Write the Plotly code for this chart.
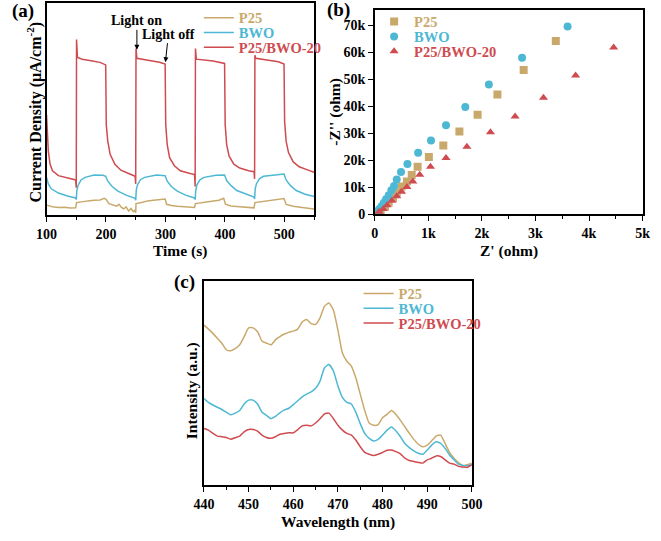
import plotly.graph_objects as go

W, H = 661, 541
FONT = "Liberation Serif"
C_P25 = "#C9A96B"
C_BWO = "#4DB8D3"
C_CMP = "#CF4B50"
NAMES = ["P25", "BWO", "P25/BWO-20"]

# ---------------- (a) transient photocurrent (arbitrary units) ----------------
t_p25 = [100, 110, 120, 130, 140, 149, 150.5, 160, 170, 180, 190, 197, 200, 205, 212, 218, 222, 226, 230, 234, 238, 242, 246, 249, 250,
         250.5, 260, 270, 280, 290, 299.5, 302, 310, 320, 335, 349, 350.5, 360, 375, 390, 398, 401, 410, 425, 440, 449,
         450.5, 465, 480, 495, 499.5, 503, 515, 530, 540, 550]
j_p25 = [4.7, 3.9, 3.6, 3.7, 3.3, 3.4, 5.9, 6.4, 6.7, 7.0, 7.1, 7.9, 7.4, 5.4, 4.7, 4.2, 5.1, 3.6, 2.9, 3.9, 1.9, 3.1, 1.6, 2.3, 1.1,
         5.4, 5.9, 6.7, 7.0, 7.3, 7.6, 5.1, 4.5, 4.2, 3.9, 3.6, 5.4, 5.9, 6.4, 7.0, 7.9, 5.1, 4.3, 3.9, 3.6, 3.4,
         5.9, 6.4, 6.8, 7.3, 7.8, 5.0, 4.2, 3.6, 3.3, 2.9]

t_bwo = [100, 103, 108, 120, 135, 149, 150, 151, 153, 158, 165, 180, 195, 199.5, 203, 210, 220, 235, 249,
         250, 251, 253, 258, 265, 285, 299.5, 303, 310, 320, 335, 349,
         350, 351, 353, 358, 365, 385, 399.5, 403, 410, 420, 435, 449,
         450, 451, 453, 458, 465, 485, 499.5, 503, 510, 520, 535, 550]
j_bwo = [17.8, 14.7, 12.4, 10.4, 9.0, 8.1, 7.3, 11.6, 14.0, 16.6, 17.8, 18.9, 18.8, 18.3, 16.0, 13.6, 11.3, 9.3, 7.9,
         7.0, 11.9, 14.3, 16.7, 17.8, 18.9, 18.6, 16.0, 13.5, 11.3, 9.3, 8.1,
         7.3, 11.6, 14.3, 16.6, 17.8, 18.8, 18.9, 16.3, 14.0, 11.6, 9.8, 8.5,
         7.6, 12.4, 14.7, 17.1, 18.3, 19.1, 19.4, 16.6, 14.0, 11.6, 9.8, 8.8]

t_cmp = [100, 103, 106, 110, 120, 135, 149, 150, 150.5, 152, 160, 175, 190, 199.5,
         200.5, 203, 207, 215, 225, 240, 249, 250, 250.5, 252, 270, 290, 299.5,
         300.5, 303, 307, 315, 325, 340, 349, 350, 350.5, 352, 360, 380, 399.5,
         400.5, 403, 407, 415, 425, 440, 449, 450, 450.5, 452, 470, 490, 499.5,
         500.5, 503, 507, 515, 525, 540, 550]
j_cmp = [47.3, 30.2, 24.0, 20.9, 18.6, 17.4, 16.6, 12.9, 82.9, 74.4, 73.6, 72.9, 72.1, 70.9,
         42.6, 34.9, 28.7, 24.0, 21.2, 19.4, 18.3, 14.7, 78.6, 74.0, 73.2, 72.1, 71.3,
         42.6, 33.3, 27.1, 23.3, 20.9, 19.7, 19.1, 13.5, 78.6, 73.6, 73.3, 72.7, 71.6,
         42.6, 33.3, 27.9, 24.0, 22.2, 20.9, 20.5, 17.1, 75.5, 74.0, 73.3, 72.4, 71.3,
         44.2, 34.9, 29.5, 25.1, 22.8, 21.2, 20.2]

# ---------------- (b) Nyquist plots ----------------
zr_p25 = [3380, 2780, 2290, 1920, 1580, 1280, 1010, 800, 690, 600, 500, 410, 340, 260, 190, 110, 60]
zi_p25 = [64200, 53400, 44300, 36800, 30600, 25400, 21200, 17500, 14500, 12100, 10200, 7900, 6000, 4300, 2700, 1500, 600]
zr_bwo = [3600, 2750, 2130, 1690, 1330, 1050, 810, 610, 490, 410, 360, 310, 260, 210, 170, 130, 90, 60, 40]
zi_bwo = [69500, 57900, 48000, 39700, 32900, 27300, 22700, 18600, 15600, 12800, 10400, 8800, 7000, 5500, 4200, 3000, 2000, 1200, 500]
zr_cmp = [4460, 3750, 3150, 2620, 2160, 1720, 1330, 1040, 840, 710, 600, 500, 410, 320, 230, 160, 80]
zi_cmp = [61700, 51400, 43100, 36200, 30300, 25000, 20800, 17500, 14600, 12100, 10000, 8300, 6600, 4900, 3300, 1900, 850]
z_ticks = [0, 1000, 2000, 3000, 4000, 5000]
z_ticklabels = ["0", "1k", "2k", "3k", "4k", "5k"]
zi_ticks = [0, 10000, 20000, 30000, 40000, 50000, 60000, 70000]
zi_ticklabels = ["0", "10k", "20k", "30k", "40k", "50k", "60k", "70k"]

# ---------------- (c) PL spectra ----------------
wl = list(range(440, 501))
pl_p25 = [78.3, 76.4, 74.3, 71.9, 69.5, 66.3, 65.8, 66.8, 68.7, 72.7, 77.0, 77.0, 75.1, 70.6, 69.5, 68.7, 71.1, 72.7, 74.0, 74.8,
          75.4, 76.4, 79.9, 81.1, 79.1, 78.7, 81.9, 87.6, 89.1, 85.6, 75.9, 64.7, 60.7, 58.3, 52.6, 44.6, 36.6, 30.5, 29.4, 29.7,
          33.1, 34.7, 36.6, 34.7, 31.8, 28.6, 25.4, 22.5, 20.1, 18.9, 19.7, 21.8, 24.1, 24.6, 20.5, 16.1, 13.3, 11.2, 9.6, 10.1, 10.9]
pl_bwo = [42.5, 40.6, 39.3, 38.2, 37.1, 35.8, 34.5, 35.3, 36.6, 39.8, 41.7, 41.7, 39.8, 35.8, 34.2, 32.6, 33.7, 35.5, 36.9, 37.7,
          39.5, 41.4, 43.3, 44.6, 45.7, 47.5, 51.0, 57.5, 59.1, 55.9, 48.6, 43.0, 40.6, 39.8, 35.8, 30.2, 25.4, 23.0, 21.7, 22.5,
          24.6, 27.0, 28.6, 26.6, 23.8, 20.5, 18.5, 16.9, 15.7, 15.2, 17.3, 19.7, 21.3, 20.5, 18.1, 14.9, 12.5, 10.4, 9.8, 9.6, 10.1]
pl_cmp = [27.8, 27.0, 25.4, 24.1, 23.8, 23.4, 22.6, 23.3, 24.1, 26.2, 27.3, 27.3, 26.5, 24.6, 23.4, 23.0, 23.8, 25.0, 25.4, 25.7,
          25.7, 27.3, 29.1, 29.4, 29.1, 30.5, 32.6, 35.0, 35.3, 32.6, 29.4, 27.0, 25.4, 24.6, 22.2, 18.9, 16.1, 15.2, 14.6, 15.2,
          16.1, 17.2, 17.3, 16.5, 15.4, 13.3, 12.2, 11.7, 11.2, 10.9, 12.5, 13.3, 14.4, 14.1, 12.5, 10.9, 10.4, 9.3, 9.0, 8.8, 10.1]


def px(x):
    return x / W


def py(y):
    return 1 - y / H


fig = go.Figure()
colors = [C_P25, C_BWO, C_CMP]

# (a)
for i, (tx, ty) in enumerate([(t_p25, j_p25), (t_bwo, j_bwo), (t_cmp, j_cmp)]):
    fig.add_trace(go.Scatter(x=tx, y=ty, mode="lines", name=NAMES[i],
                             line=dict(color=colors[i], width=1.5),
                             xaxis="x", yaxis="y", legend="legend" if i == 0 else f"legend{i+1}"))
# (b)
symbols = ["square", "circle", "triangle-up"]
for i, (zx, zy) in enumerate([(zr_p25, zi_p25), (zr_bwo, zi_bwo), (zr_cmp, zi_cmp)]):
    fig.add_trace(go.Scatter(x=zx, y=zy, mode="markers", name=NAMES[i],
                             marker=dict(color=colors[i], symbol=symbols[i], size=8, line=dict(width=0)),
                             xaxis="x2", yaxis="y2", legend=f"legend{i+4}"))
# (c)
for i, yy in enumerate([pl_p25, pl_bwo, pl_cmp]):
    fig.add_trace(go.Scatter(x=wl, y=yy, mode="lines", name=NAMES[i],
                             line=dict(color=colors[i], width=1.5, shape="spline", smoothing=0.5),
                             xaxis="x3", yaxis="y3", legend=f"legend{i+7}"))

base = dict(showline=True, linecolor="black", linewidth=1.5, mirror=True, showgrid=False, zeroline=False,
            tickwidth=1.2, tickcolor="black",
            tickfont=dict(family=FONT, size=14, color="black", weight="bold"))
tick_out = dict(ticks="outside", ticklen=5)

layout = dict(
    width=W, height=H, margin=dict(l=0, r=0, t=0, b=0),
    paper_bgcolor="white", plot_bgcolor="white",
    font=dict(family=FONT, color="black"),
    xaxis=dict(domain=[px(36.7), px(313)], range=[100, 550], tickvals=[100, 200, 300, 400, 500], anchor="y",
               minor=dict(ticks="outside", ticklen=3, dtick=50, tick0=100, tickcolor="black", tickwidth=1.2, showgrid=False),
               **base, **tick_out),
    yaxis=dict(domain=[py(218.3), py(3.3)], range=[0, 100], showticklabels=False, ticks="", anchor="x", **base),
    xaxis2=dict(domain=[px(375.7), px(652.3)], range=[0, 5000], tickvals=z_ticks, ticktext=z_ticklabels, anchor="y2",
                minor=dict(ticks="outside", ticklen=3, dtick=500, tick0=0, tickcolor="black", tickwidth=1.2, showgrid=False),
                **base, **tick_out),
    yaxis2=dict(domain=[py(217.3), py(10)], range=[0, 75700], tickvals=zi_ticks, ticktext=zi_ticklabels, anchor="x2",
                **base, **tick_out),
    xaxis3=dict(domain=[px(199.3), px(476)], range=[440, 500], tickvals=[440, 450, 460, 470, 480, 490, 500], anchor="y3",
                minor=dict(ticks="outside", ticklen=3, dtick=5, tick0=440, tickcolor="black", tickwidth=1.2, showgrid=False),
                **base, **tick_out),
    yaxis3=dict(domain=[py(492.7), py(285)], range=[0, 100], showticklabels=False, ticks="", anchor="x3", **base),
    showlegend=True,
)

legend_pos = [(194, 18), (194, 33), (194, 48), (375, 22), (375, 37), (375, 52), (359, 298), (359, 313), (359, 328)]
for k, (lx, ly) in enumerate(legend_pos):
    key = "legend" if k == 0 else f"legend{k+1}"
    layout[key] = dict(x=px(lx), y=py(ly), xanchor="left", yanchor="middle", bgcolor="rgba(0,0,0,0)",
                       borderwidth=0, font=dict(family=FONT, size=14.5, color=colors[k % 3], weight="bold"))

fig.update_layout(**layout)

lbl = dict(family=FONT, size=15.5, color="black", weight="bold")
ann = [
    dict(text="(a)", x=px(12), y=py(11), font=dict(family=FONT, size=19, color="black", weight="bold")),
    dict(text="(b)", x=px(338), y=py(10), font=dict(family=FONT, size=19, color="black", weight="bold")),
    dict(text="(c)", x=px(179), y=py(286), font=dict(family=FONT, size=19, color="black", weight="bold")),
    dict(text="Time (s)", x=px(175), y=py(255), font=lbl),
    dict(text="Z' (ohm)", x=px(514), y=py(255), font=lbl),
    dict(text="Wavelength (nm)", x=px(338), y=py(530), font=lbl),
    dict(text="Current Density (μA/cm<sup>-2</sup>)", x=px(24), y=py(114), textangle=-90,
         font=dict(family=FONT, size=16, color="black", weight="bold")),
    dict(text="-Z'' (ohm)", x=px(335), y=py(113), textangle=-90, font=lbl),
    dict(text="Intensity (a.u.)", x=px(187), y=py(397), textangle=-90, font=lbl),
]
for a in ann:
    fig.add_annotation(xref="paper", yref="paper", showarrow=False, xanchor="center", yanchor="middle", **a)

# arrows
arrow_font = dict(family=FONT, size=14, color="black", weight="bold")
fig.add_annotation(xref="x", yref="y", x=252, y=78, text="Light on", showarrow=True, ax=0, ay=-29,
                   arrowhead=2, arrowsize=1, arrowwidth=1, arrowcolor="black", font=arrow_font)
fig.add_annotation(xref="x", yref="y", x=300, y=72.2, text="Light off", showarrow=True, ax=3, ay=-28,
                   arrowhead=2, arrowsize=1, arrowwidth=1, arrowcolor="black", font=arrow_font)

fig.write_html("out.html")
